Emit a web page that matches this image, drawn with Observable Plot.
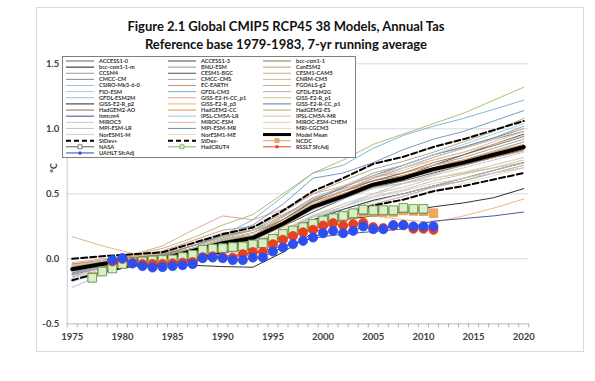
<!DOCTYPE html>
<html><head><meta charset="utf-8">
<script src="https://cdn.jsdelivr.net/npm/d3@7"></script>
<script src="https://cdn.jsdelivr.net/npm/@observablehq/plot@0.6"></script>
<style>
body{margin:0;background:#fff;width:595px;height:381px;position:relative;overflow:hidden;font-family:Lato,"Liberation Sans",sans-serif}
#frame{position:absolute;left:36px;top:7px;width:548px;height:345px;border:1px solid #d9d9d9;box-sizing:border-box}
#chart{position:absolute;left:0;top:0}
#title{position:absolute;left:0;top:17px;width:572px;text-align:center;font-weight:bold;color:#111;font-size:13px;line-height:18px;font-family:Lato,sans-serif}
#overlay{position:absolute;left:0;top:0}
</style></head><body>
<div id="frame"></div>
<div id="chart"></div>
<div id="title"><div>Figure 2.1 Global CMIP5 RCP45 38 Models, Annual Tas</div><div>Reference base 1979-1983, 7-yr running average</div></div>
<div id="overlay"></div>
<script>
// ---------- data ----------
const years = [1975,1978,1981,1984,1987,1990,1993,1996,1999,2002,2005,2008,2011,2014,2017,2020];
const modelNames = ["ACCESS1-0","ACCESS1-3","bcc-csm1-1","bcc-csm1-1-m","BNU-ESM","CanESM2","CCSM4","CESM1-BGC","CESM1-CAM5","CMCC-CM","CMCC-CMS","CNRM-CM5","CSIRO-Mk3-6-0","EC-EARTH","FGOALS-g2","FIO-ESM","GFDL-CM3","GFDL-ESM2G","GFDL-ESM2M","GISS-E2-H-CC_p1","GISS-E2-R_p1","GISS-E2-R_p2","GISS-E2-R_p3","GISS-E2-R-CC_p1","HadGEM2-AO","HadGEM2-CC","HadGEM2-ES","inmcm4","IPSL-CM5A-LR","IPSL-CM5A-MR","MIROC5","MIROC-ESM","MIROC-ESM-CHEM","MPI-ESM-LR","MPI-ESM-MR","MRI-CGCM3","NorESM1-M","NorESM1-ME"];
const modelValues = [
[-0.10,-0.05,-0.02,0.02,0.08,0.15,0.20,0.30,0.45,0.55,0.64,0.72,0.80,0.86,0.93,1.00],
[-0.06,-0.03,0.00,0.01,0.05,0.10,0.14,0.25,0.36,0.46,0.56,0.63,0.72,0.80,0.88,0.96],
[-0.04,-0.02,-0.01,0.03,0.10,0.18,0.22,0.30,0.42,0.50,0.58,0.63,0.68,0.72,0.78,0.84],
[-0.12,-0.06,-0.03,-0.04,-0.05,-0.06,-0.065,0.05,0.20,0.30,0.33,0.36,0.40,0.43,0.47,0.54],
[-0.08,-0.04,0.01,0.04,0.10,0.16,0.22,0.33,0.47,0.55,0.66,0.72,0.80,0.86,0.93,1.02],
[-0.09,-0.03,0.02,0.05,0.12,0.17,0.22,0.36,0.50,0.60,0.69,0.75,0.82,0.90,0.98,1.08],
[-0.07,-0.04,-0.01,0.00,0.06,0.12,0.15,0.28,0.42,0.52,0.60,0.66,0.72,0.78,0.85,0.92],
[-0.08,-0.05,-0.02,0.00,0.05,0.11,0.16,0.26,0.38,0.47,0.55,0.60,0.66,0.72,0.78,0.84],
[-0.10,-0.05,-0.02,-0.01,0.04,0.10,0.14,0.25,0.38,0.48,0.58,0.64,0.70,0.76,0.82,0.90],
[-0.05,-0.03,0.00,0.02,0.07,0.14,0.20,0.32,0.46,0.54,0.60,0.64,0.70,0.74,0.80,0.86],
[-0.11,-0.06,-0.02,0.00,0.05,0.12,0.17,0.28,0.41,0.50,0.57,0.63,0.70,0.76,0.83,0.90],
[-0.07,-0.04,-0.01,-0.01,0.04,0.09,0.12,0.22,0.33,0.40,0.48,0.53,0.60,0.65,0.70,0.76],
[-0.22,-0.12,-0.05,-0.04,0.00,0.05,0.08,0.18,0.30,0.40,0.50,0.58,0.65,0.72,0.80,0.88],
[-0.04,-0.01,0.02,0.06,0.14,0.22,0.25,0.34,0.45,0.52,0.58,0.62,0.67,0.72,0.78,0.83],
[0.17,0.10,0.04,0.02,0.05,0.10,0.12,0.20,0.30,0.36,0.42,0.48,0.55,0.60,0.66,0.72],
[-0.09,-0.05,-0.03,-0.02,0.02,0.07,0.10,0.18,0.28,0.35,0.42,0.48,0.55,0.60,0.66,0.72],
[-0.14,-0.06,-0.02,0.02,0.08,0.18,0.30,0.48,0.66,0.72,0.85,0.95,1.02,1.08,1.15,1.22],
[-0.06,-0.03,0.00,0.02,0.06,0.10,0.13,0.22,0.32,0.38,0.45,0.50,0.56,0.60,0.66,0.70],
[-0.10,-0.05,-0.02,0.00,0.04,0.08,0.10,0.20,0.33,0.42,0.50,0.55,0.62,0.66,0.72,0.78],
[-0.03,0.00,0.03,0.10,0.22,0.33,0.30,0.38,0.50,0.56,0.63,0.66,0.72,0.76,0.80,0.84],
[-0.05,-0.02,0.01,0.05,0.12,0.20,0.22,0.30,0.42,0.48,0.55,0.58,0.62,0.66,0.70,0.74],
[-0.08,-0.04,-0.02,0.00,0.05,0.10,0.12,0.20,0.30,0.38,0.45,0.50,0.56,0.62,0.68,0.74],
[-0.06,-0.03,0.00,0.04,0.10,0.16,0.18,0.24,0.30,0.32,0.33,0.30,0.28,0.33,0.39,0.46],
[-0.07,-0.03,0.00,0.03,0.08,0.14,0.18,0.30,0.44,0.52,0.62,0.70,0.78,0.85,0.92,0.98],
[-0.09,-0.05,-0.02,0.00,0.06,0.12,0.17,0.30,0.44,0.52,0.60,0.66,0.74,0.80,0.87,0.94],
[-0.06,-0.02,0.01,0.03,0.08,0.14,0.18,0.30,0.42,0.50,0.58,0.64,0.70,0.76,0.82,0.88],
[-0.05,-0.02,0.03,0.08,0.16,0.26,0.34,0.50,0.66,0.76,0.88,0.96,1.04,1.12,1.22,1.32],
[-0.12,-0.07,-0.04,-0.04,-0.02,0.02,0.04,0.10,0.16,0.19,0.21,0.23,0.29,0.31,0.33,0.36],
[-0.15,-0.08,-0.03,0.00,0.07,0.14,0.20,0.32,0.46,0.56,0.66,0.72,0.80,0.88,0.96,1.04],
[-0.12,-0.06,-0.02,0.01,0.08,0.15,0.20,0.32,0.46,0.56,0.64,0.70,0.76,0.82,0.88,0.95],
[-0.05,-0.02,0.00,0.00,0.04,0.08,0.10,0.18,0.28,0.36,0.44,0.50,0.56,0.62,0.68,0.74],
[-0.13,-0.07,-0.03,-0.01,0.04,0.10,0.16,0.28,0.42,0.52,0.62,0.68,0.76,0.82,0.90,0.98],
[-0.10,-0.05,-0.02,0.00,0.05,0.11,0.16,0.29,0.43,0.53,0.63,0.70,0.78,0.85,0.92,1.00],
[-0.08,-0.04,-0.01,0.01,0.06,0.12,0.16,0.26,0.38,0.46,0.54,0.58,0.64,0.70,0.76,0.82],
[-0.11,-0.05,0.00,0.03,0.10,0.18,0.26,0.42,0.62,0.66,0.74,0.84,0.92,0.98,1.06,1.14],
[-0.18,-0.10,-0.04,-0.03,0.00,0.04,0.06,0.14,0.24,0.32,0.40,0.46,0.52,0.58,0.64,0.70],
[-0.09,-0.05,-0.02,-0.01,0.03,0.08,0.10,0.20,0.32,0.40,0.47,0.52,0.58,0.62,0.66,0.70],
[-0.07,-0.04,-0.01,0.00,0.04,0.09,0.12,0.22,0.34,0.42,0.50,0.55,0.62,0.67,0.72,0.78]
];
const meanValues = [-0.08,-0.04,-0.01,0.00,0.06,0.12,0.16,0.27,0.40,0.48,0.57,0.62,0.69,0.74,0.80,0.86];
const sdPlusValues = [0.00,0.02,0.035,0.05,0.12,0.19,0.24,0.37,0.52,0.62,0.73,0.785,0.86,0.92,0.99,1.06];
const sdMinusValues = [-0.165,-0.10,-0.055,-0.05,0.00,0.05,0.08,0.17,0.28,0.34,0.41,0.455,0.52,0.56,0.61,0.66];

const ncdcStart = 1977;
const ncdcValues = [-0.14,-0.095,-0.07,-0.035,-0.025,-0.02,-0.012,-0.008,-0.005,0.012,0.03,0.066,0.075,0.08,0.088,0.093,0.108,0.118,0.15,0.188,0.212,0.238,0.262,0.288,0.305,0.322,0.34,0.365,0.36,0.36,0.36,0.372,0.368,0.366,0.351];
const nasaStart = 1977;
const nasaValues = [-0.145,-0.097,-0.073,-0.035,-0.024,-0.02,-0.012,-0.007,-0.004,0.013,0.031,0.068,0.077,0.082,0.089,0.095,0.11,0.12,0.153,0.19,0.216,0.242,0.267,0.293,0.31,0.328,0.348,0.376,0.372,0.372,0.372,0.39,0.383,0.383];
const hadStart = 1977;
const hadValues = [-0.146,-0.098,-0.075,-0.04,-0.025,-0.021,-0.013,-0.008,-0.005,0.013,0.031,0.069,0.078,0.082,0.09,0.095,0.11,0.12,0.154,0.192,0.218,0.243,0.269,0.295,0.312,0.33,0.35,0.379,0.374,0.374,0.374,0.392,0.385,0.385];
const rssStart = 1979;
const rssValues = [-0.02,0.0,-0.03,-0.04,-0.04,-0.04,-0.035,-0.03,-0.025,0.012,0.018,0.012,0.008,0.035,0.052,0.052,0.112,0.146,0.175,0.203,0.223,0.255,0.274,0.255,0.266,0.277,0.243,0.236,0.255,0.26,0.231,0.231,0.223];
const uahStart = 1979;
const uahValues = [-0.01,0.005,-0.036,-0.056,-0.067,-0.064,-0.056,-0.049,-0.041,0.005,0.01,0.005,-0.01,-0.01,0.01,0.01,0.056,0.087,0.113,0.138,0.164,0.197,0.215,0.197,0.215,0.249,0.228,0.228,0.259,0.259,0.249,0.249,0.249];

const xLabelYears = [1975,1980,1985,1990,1995,2000,2005,2010,2015,2020];
const yTickValues = [-0.5,0,0.5,1,1.5];
const yTickLabels = ["-0.5","0.0","0.5","1.0","1.5"];
const extraNames = ["Model Mean","StDev+","StDev-","NCDC","NASA","HadCRUT4","RSSLT SfcAdj","UAHLT SfcAdj"];

// ---------- styles ----------
const modelColors = ["#5a6470","#3f4a55","#8a7a4a","#1a1a1a","#8a9aaa","#b0a070","#9a9a9a","#5c5040","#c8b090","#8c8c8c","#a8a8a8","#d0b89a","#9cc0e0","#c8907a","#d8b080","#c0c0c0","#70b0c8","#b0b0b0","#a8b8c8","#e0a090","#d0c090","#202830","#f0b070","#5878a0","#8a7040","#e89040","#a8b868","#3a4a9a","#a0c8e8","#d8c0a0","#c8c8c8","#e8b0a0","#e0d0b0","#c0c4c8","#6890b8","#e8d8b8","#d0d0d0","#e8dcc0"];
const obsStyle = {
  "NCDC": {line:"#e8a060", fill:"#f0a860", stroke:"#e09448", symbol:"square"},
  "NASA": {line:"#606060", fill:"#ffffff", stroke:"#505050", symbol:"square"},
  "HadCRUT4": {line:"#80b060", fill:"#d8f0c4", stroke:"#6f9f4f", symbol:"square"},
  "RSSLT SfcAdj": {line:"#e04020", fill:"#e8401e", stroke:"#e8401e", symbol:"circle"},
  "UAHLT SfcAdj": {line:"#2a44e0", fill:"#2d4ef0", stroke:"#2d4ef0", symbol:"circle"}
};

// ---------- build ----------
const modelData = modelNames.flatMap((m, i) => years.map((yr, j) => ({model: m, color: modelColors[i], year: yr, value: modelValues[i][j]})));
const series = (vals) => years.map((yr, j) => ({year: yr, value: vals[j]}));
const obs = (start, vals) => vals.map((v, j) => ({year: start + j, value: v}));
const obsSets = [
  ["NCDC", obs(ncdcStart, ncdcValues)],
  ["NASA", obs(nasaStart, nasaValues)],
  ["HadCRUT4", obs(hadStart, hadValues)],
  ["RSSLT SfcAdj", obs(rssStart, rssValues)],
  ["UAHLT SfcAdj", obs(uahStart, uahValues)]
];
const minorTicks = d3.range(1974.5, 2021, 1);

const obsMarks = obsSets.flatMap(([name, data]) => {
  const s = obsStyle[name];
  return [
    Plot.line(data, {x: "year", y: "value", stroke: s.line, strokeWidth: 1}),
    Plot.dot(data, {x: "year", y: "value", symbol: s.symbol, r: s.symbol === "square" ? 4.8 : 4.6, fill: s.fill, stroke: s.stroke, strokeWidth: 0.8})
  ];
});

const chart = Plot.plot({
  width: 595, height: 381,
  marginLeft: 66.7, marginRight: 66.7, marginTop: 63.3, marginBottom: 57.7,
  x: {domain: [1974.5, 2020.5], axis: null},
  y: {domain: [-0.5, 1.5], axis: null},
  style: {background: "transparent", fontFamily: "Lato, sans-serif", overflow: "visible"},
  marks: [
    Plot.gridY(yTickValues.slice(1), {stroke: "#d9d9d9", strokeOpacity: 1, strokeWidth: 1}),
    Plot.ruleY([-0.5], {stroke: "#c8c8c8", strokeWidth: 1.2}),
    Plot.ruleX([1974.5], {stroke: "#c8c8c8", strokeWidth: 1}),
    Plot.axisX({ticks: minorTicks, tickSize: 4, tickFormat: () => "", stroke: "#b0b0b0", label: null}),
    Plot.axisX({ticks: xLabelYears, tickSize: 0, tickPadding: 9, fontSize: 9.5, fontWeight: "bold", color: "#404040", tickFormat: d => String(d), label: null}),
    Plot.axisY({ticks: yTickValues, tickSize: 0, tickPadding: 8, fontSize: 9.5, fontWeight: "bold", color: "#404040", tickFormat: (d, i) => yTickLabels[i], label: null}),
    Plot.line(modelData, {x: "year", y: "value", z: "model", stroke: "color", strokeWidth: 0.9}),
    Plot.line(series(meanValues), {x: "year", y: "value", stroke: "#000", strokeWidth: 4}),
    Plot.line(series(sdPlusValues), {x: "year", y: "value", stroke: "#000", strokeWidth: 2, strokeDasharray: "6,3"}),
    Plot.line(series(sdMinusValues), {x: "year", y: "value", stroke: "#000", strokeWidth: 2, strokeDasharray: "6,3"}),
    ...obsMarks
  ]
});
document.getElementById("chart").appendChild(chart);

// ---------- legend overlay ----------
const svg = d3.select("#overlay").append("svg").attr("width", 595).attr("height", 381);
svg.append("text").attr("transform", "translate(57,168) rotate(-90)").attr("text-anchor", "middle")
  .attr("font-family", "Lato, sans-serif").attr("font-size", 9).attr("font-weight", "bold").attr("fill", "#404040").text("°C");
const lg = svg.append("g");
lg.append("rect").attr("x", 62.5).attr("y", 56.5).attr("width", 293).attr("height", 101).attr("fill", "#fff").attr("stroke", "#7f7f7f").attr("stroke-width", 1);
const legendNames = modelNames.concat(extraNames);
const colX = [66, 168, 263];
legendNames.forEach((name, i) => {
  const row = Math.floor(i / 3), col = i % 3;
  const y = 61 + row * 6.13, x0 = colX[col], x1 = x0 + 28;
  const g = lg.append("g");
  if (i < modelNames.length) {
    g.append("line").attr("x1", x0).attr("x2", x1).attr("y1", y).attr("y2", y).attr("stroke", modelColors[i]).attr("stroke-width", 1);
  } else if (name === "Model Mean") {
    g.append("line").attr("x1", x0).attr("x2", x1).attr("y1", y).attr("y2", y).attr("stroke", "#000").attr("stroke-width", 3);
  } else if (name.startsWith("StDev")) {
    g.append("line").attr("x1", x0).attr("x2", x1).attr("y1", y).attr("y2", y).attr("stroke", "#000").attr("stroke-width", 2).attr("stroke-dasharray", "5,3");
  } else {
    const s = obsStyle[name];
    g.append("line").attr("x1", x0).attr("x2", x1).attr("y1", y).attr("y2", y).attr("stroke", s.line).attr("stroke-width", 1);
    if (s.symbol === "square") g.append("rect").attr("x", (x0 + x1) / 2 - 2).attr("y", y - 2).attr("width", 4).attr("height", 4).attr("fill", s.fill).attr("stroke", s.stroke).attr("stroke-width", 0.7);
    else g.append("circle").attr("cx", (x0 + x1) / 2).attr("cy", y).attr("r", 1.8).attr("fill", s.fill);
  }
  g.append("text").attr("x", x1 + 5).attr("y", y).attr("dy", "0.35em").attr("font-family", "Lato, sans-serif")
    .attr("font-size", 5.6).attr("font-weight", "bold").attr("fill", "#333").text(name);
});
</script>
</body></html>
